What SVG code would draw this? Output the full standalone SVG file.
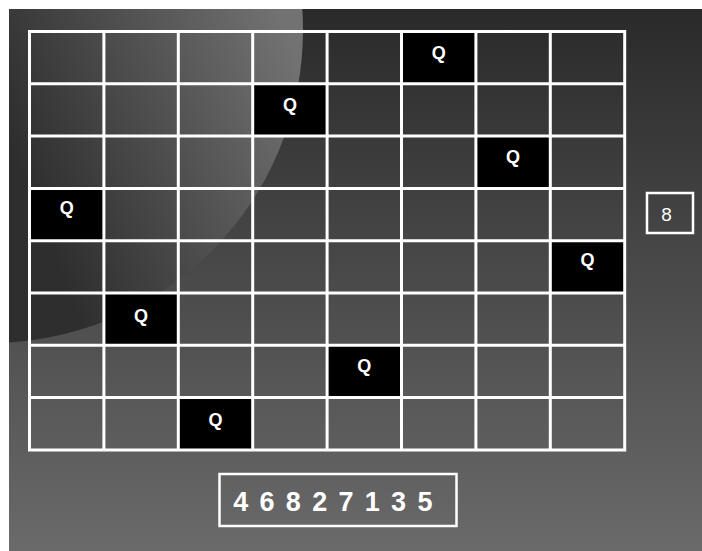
<svg xmlns="http://www.w3.org/2000/svg" width="702" height="551" viewBox="0 0 702 551">
  <defs>
    <linearGradient id="bgGrad" gradientUnits="userSpaceOnUse" x1="0" y1="9" x2="0" y2="551">
      <stop offset="0" stop-color="#2a2a2a"/>
      <stop offset="1" stop-color="#6a6a6a"/>
    </linearGradient>
    <linearGradient id="glossGrad" gradientUnits="userSpaceOnUse" x1="20" y1="170" x2="300" y2="60">
      <stop offset="0" stop-color="#2e2e2e"/>
      <stop offset="1" stop-color="#727272"/>
    </linearGradient>
    <clipPath id="panelClip">
      <rect x="9" y="9" width="693" height="542"/>
    </clipPath>
  </defs>
  <style>
    .grid { fill: none; stroke: #ffffff; stroke-width: 3; }
    .queen rect { fill: #000000; }
    .queen text { fill: #ffffff; font-family: "Liberation Sans", Arial, sans-serif; font-weight: bold; font-size: 18px; text-anchor: middle; }
    .box { fill: none; stroke: #ffffff; stroke-width: 2.5; }
    .label { fill: #ffffff; font-family: "Liberation Sans", Arial, sans-serif; }
  </style>

  <g id="background">
    <rect x="9" y="9" width="693" height="542" fill="url(#bgGrad)"/>
    <circle cx="-10" cy="30" r="313" fill="url(#glossGrad)" clip-path="url(#panelClip)"/>
  </g>

  <g id="queens">
    <g id="queen-r1" class="queen"><rect x="401.5" y="31.5" width="74.4" height="52.3"/><text x="438.7" y="59">Q</text></g>
    <g id="queen-r2" class="queen"><rect x="252.7" y="83.8" width="74.4" height="52.3"/><text x="289.9" y="110.5">Q</text></g>
    <g id="queen-r3" class="queen"><rect x="475.9" y="136.1" width="74.4" height="52.3"/><text x="513.1" y="163">Q</text></g>
    <g id="queen-r4" class="queen"><rect x="29.5" y="188.4" width="74.4" height="52.3"/><text x="66.7" y="214">Q</text></g>
    <g id="queen-r5" class="queen"><rect x="550.3" y="240.7" width="74.4" height="52.3"/><text x="587.5" y="266">Q</text></g>
    <g id="queen-r6" class="queen"><rect x="103.9" y="293" width="74.4" height="52.3"/><text x="141.1" y="321.5">Q</text></g>
    <g id="queen-r7" class="queen"><rect x="327.1" y="345.3" width="74.4" height="52.3"/><text x="364.3" y="372">Q</text></g>
    <g id="queen-r8" class="queen"><rect x="178.3" y="397.6" width="74.4" height="52.3"/><text x="215.5" y="425.5">Q</text></g>
  </g>

  <g id="board">
    <path class="grid" d="M29.5,31.5V449.9 M103.9,31.5V449.9 M178.3,31.5V449.9 M252.7,31.5V449.9 M327.1,31.5V449.9 M401.5,31.5V449.9 M475.9,31.5V449.9 M550.3,31.5V449.9 M624.7,31.5V449.9
      M28,31.5H626.2 M28,83.8H626.2 M28,136.1H626.2 M28,188.4H626.2 M28,240.7H626.2 M28,293H626.2 M28,345.3H626.2 M28,397.6H626.2 M28,449.9H626.2"/>
  </g>

  <g id="count">
    <rect class="box" x="647" y="193" width="46" height="40" stroke-width="2"/>
    <text class="label" x="666.5" y="220.5" font-size="19" text-anchor="middle">8</text>
  </g>

  <g id="solution">
    <rect class="box" x="219.5" y="474" width="237" height="52"/>
    <text class="label" x="233.2" y="511" font-size="27" font-weight="bold" letter-spacing="11.3">46827135</text>
  </g>
</svg>
